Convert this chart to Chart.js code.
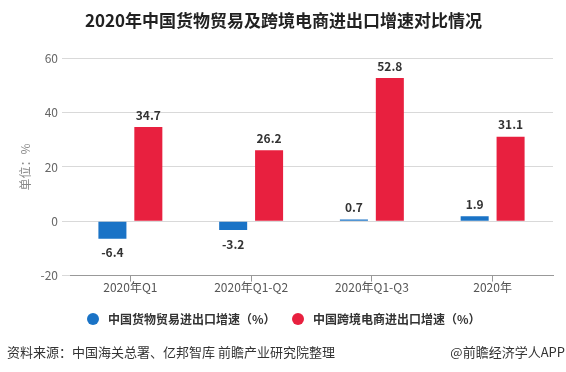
<!DOCTYPE html>
<html lang="zh-CN">
<head>
    <meta charset="UTF-8">
    <title>2020年中国货物贸易及跨境电商进出口增速对比情况</title>
    <script src="https://cdn.jsdelivr.net/npm/chart.js"></script>
    <style>
        html, body { margin: 0; padding: 0; background: #fff; }
        #box { width: 566px; height: 372px; position: relative; }
        #legenda { position: absolute; left: 0; top: 310px; width: 566px; height: 18px; }
        .item { position: absolute; top: 0; height: 18px; line-height: 18px; white-space: nowrap;
                font: bold 12px "Noto Sans CJK SC", "Noto Sans", sans-serif; color: #333; }
        .bola { display: inline-block; width: 12px; height: 12px; border-radius: 50%;
                vertical-align: -1px; margin-right: 9px; }
    </style>
</head>
<body>
    <div id="box">
        <canvas id="grafico"></canvas>
        <div id="legenda"></div>
    </div>

    <script>
        const categorias = ['2020年Q1', '2020年Q1-Q2', '2020年Q1-Q3', '2020年'];
        const comercioBens = [-6.4, -3.2, 0.7, 1.9];
        const comercioEletronico = [34.7, 26.2, 52.8, 31.1];
        const nomesSeries = ['中国货物贸易进出口增速（%）', '中国跨境电商进出口增速（%）'];
        const ticksY = [-20, 0, 20, 40, 60];

        const fonte = '"Noto Sans CJK SC", "Noto Sans", sans-serif';

        // rótulos de valor acima/abaixo das barras
        const rotulos = {
            id: 'rotulos',
            afterDatasetsDraw(chart) {
                const ctx = chart.ctx;
                ctx.save();
                ctx.font = 'bold 12px ' + fonte;
                ctx.fillStyle = '#333';
                ctx.textAlign = 'center';
                ctx.textBaseline = 'middle';
                chart.data.datasets.forEach((ds, i) => {
                    chart.getDatasetMeta(i).data.forEach((bar, j) => {
                        const v = ds.data[j];
                        const y = v < 0 ? bar.y + 14 : bar.y - 12;
                        ctx.fillText(v.toFixed(1), bar.x, y);
                    });
                });
                ctx.restore();
            }
        };

        // rodapé com a fonte dos dados
        const rodape = {
            id: 'rodape',
            afterDraw(chart) {
                const ctx = chart.ctx;
                ctx.save();
                ctx.font = '13px ' + fonte;
                ctx.fillStyle = '#333';
                ctx.textBaseline = 'middle';
                ctx.textAlign = 'left';
                ctx.fillText('资料来源：中国海关总署、亿邦智库 前瞻产业研究院整理', 7, 352);
                ctx.textAlign = 'right';
                ctx.fillText('@前瞻经济学人APP', 565, 352);
                ctx.restore();
            }
        };

        const grafico = new Chart(document.getElementById('grafico'), {
            type: 'bar',
            data: {
                labels: categorias,
                datasets: [{
                    label: nomesSeries[0],
                    data: comercioBens,
                    backgroundColor: '#1a73c6'
                }, {
                    label: nomesSeries[1],
                    data: comercioEletronico,
                    backgroundColor: '#e8203f'
                }]
            },
            options: {
                responsive: true,
                maintainAspectRatio: false,
                animation: false,
                datasets: {
                    bar: { categoryPercentage: 0.595, barPercentage: 0.78 }
                },
                layout: { padding: { left: 14, right: 13, top: 6, bottom: 78 } },
                plugins: {
                    title: {
                        display: true,
                        text: '2020年中国货物贸易及跨境电商进出口增速对比情况',
                        color: '#222',
                        font: { family: fonte, size: 17, weight: 'bold' },
                        padding: { top: 4, bottom: 28 }
                    },
                    legend: { display: false },
                    tooltip: { enabled: false }
                },
                scales: {
                    x: {
                        grid: { display: true, drawOnChartArea: false, offset: false, tickLength: 6, color: '#999' },
                        border: { color: '#999' },
                        ticks: { color: '#555', font: { family: fonte, size: 12 }, padding: -1 }
                    },
                    y: {
                        min: -20,
                        max: 60,
                        afterBuildTicks(scale) {
                            scale.ticks = ticksY.map(v => ({ value: v }));
                        },
                        afterFit(scale) { scale.width = 56; },
                        grid: { color: '#d9d9d9', tickLength: 8 },
                        border: { display: false },
                        ticks: { color: '#666', font: { family: fonte, size: 12 }, padding: 4 },
                        title: {
                            display: true,
                            text: '单位：%',
                            color: '#888',
                            font: { family: fonte, size: 12 }
                        }
                    }
                }
            },
            plugins: [rotulos, rodape]
        });

        // legenda em HTML, a partir das séries do gráfico
        const legenda = document.getElementById('legenda');
        const posicoes = [87, 292];
        grafico.data.datasets.forEach((ds, i) => {
            const item = document.createElement('div');
            item.className = 'item';
            item.style.left = posicoes[i] + 'px';
            item.innerHTML = '<span class="bola" style="background:' + ds.backgroundColor + '"></span>' + ds.label;
            legenda.appendChild(item);
        });
    </script>
</body>
</html>
